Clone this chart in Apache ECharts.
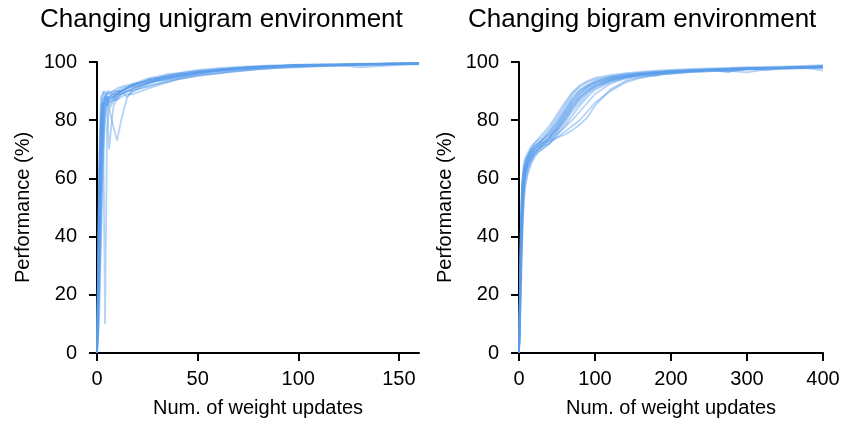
<!DOCTYPE html>
<html>
<head>
<meta charset="utf-8">
<script src="https://cdn.jsdelivr.net/npm/echarts@6/dist/echarts.min.js"></script>
<style>
html,body{margin:0;padding:0;background:#fff;}
#chart{width:843px;height:425px;}
</style>
</head>
<body>
<div id="chart"></div>
<script>
// ---- Data ----
const titles = ['Changing unigram environment', 'Changing bigram environment'];
const xAxisName = 'Num. of weight updates';
const yAxisName = 'Performance (%)';
const uniXTicks = [0, 50, 100, 150];
const bigXTicks = [0, 100, 200, 300, 400];

// Left panel: unigram environment (x = weight updates)
const uniX = [0,1,2,3,4,5,6,8,10,12,15,18,22,26,30,35,40,50,60,70,80,90,100,110,120,130,145,160];
const uni01 = [0,45,78,86,87,88,88,89,90,90,91,92,92.5,93,94,94.5,95,96,97,97.5,98,98.3,98.6,98.8,99,99.1,99.3,99.4];
const uni02 = [0,30,65,82,86,85,87,88,89,90,91,91.5,92,93,93.5,94,94.5,96.2,97,97.8,98.2,98.5,98.8,98.9,99,99.2,99.2,99.5];
const uni03 = [0,55,82,88,87,89,90,89,88,90,91,92,93,93.5,94,95,95.5,96.5,97.3,97.8,98.3,98.6,98.9,98.7,99,99.3,99.4,99.5];
const uni04 = [0,20,50,75,84,86,87,88,87,89,90,90.5,91,92,92.5,93.2,94,95.2,96,96.8,97.5,98,98.3,98.6,98.9,99.2,99.3,99.4];
const uni05 = [0,60,85,90,88,86,85,87,89,90,91,92.5,93,93.5,94.5,95.3,96,96.8,97.5,98,98.4,98.7,98.9,99,99.1,99.2,99.4,99.6];
const uni06 = [0,35,72,86,10,78,84,86,88,89,90,91,92,93,93.5,94.2,95,96,97,97.6,98,98.5,98.7,98.9,99,99.1,99.3,99.4];
const uni07 = [0,25,58,80,86,88,84,78,73,80,88,90,91.5,92.5,93.5,94,95,96,97,97.7,98.1,98.5,98.8,98.9,99,99.2,99.3,99.5];
const uni08 = [0,40,70,83,88,89,89,90,90,91,91.5,92,93,94,94.5,95,95.5,96.5,97.3,97.9,98.4,98.6,98.9,99.1,99.1,99.3,99.5,99.5];
const uni09 = [0,50,80,86,85,87,88,88,89,89,90,90,91,91.5,92.5,93.5,94.2,95.5,96.3,97,97.6,98,98.4,98.7,98.8,99,99.2,99.3];
const uni10 = [0,15,45,70,82,85,86,87,89,90,88,91,92,93,94,95,95.5,96.3,97.2,97.8,98.2,98.6,98.8,99,99,99.2,99.4,99.5];
const uni11 = [0,65,88,89,90,88,87,88,89,90,91,92,93,94,94.5,95.5,96,97,97.5,98,98.4,98.7,99,99.1,99.2,99.3,99.4,99.6];
const uni12 = [0,10,38,65,80,85,70,84,88,89,90,91,92,93,93.5,94.5,95,96,96.8,97.5,98.1,98.4,98.7,98.8,98.8,99.1,99.3,99.4];
const uni13 = [0,48,75,85,86,87,88,89,90,90,91,92,93,93.5,94,94.8,95.5,96.5,97.2,97.9,98.2,98.5,98.9,99,99.1,99.2,99.4,99.5];
const uni14 = [0,35,62,78,84,86,88,89,89.5,90,91.5,92.5,93,94,94.5,95,95.5,96.5,97.3,97.9,98.3,98.6,98.9,98.9,99,98.2,98.8,99.5];
const uni15 = [0,28,68,84,88,87,86,87,87,88,89,89,90,91,92,93,94,95.3,96.2,97,97.6,98.1,98.2,98.5,98.7,99,99.1,99.2];
const uni16 = [0,52,84,87,88,90,89,90,91,91.5,92,92.5,93.5,94.5,95,95.8,96.2,97.2,97.9,98.3,98.7,98.9,99.1,99.2,99.3,99.4,99.5,99.7];

// Right panel: bigram environment
const bigX = [0,2,4,6,8,12,16,20,25,30,40,50,60,70,80,90,100,120,140,160,180,200,225,250,275,300,325,350,375,400];
const big01 = [0,30,52,60,63,66,68,70,71,72,74,77,81,85,88,90.5,92,94,95,95.8,96.3,96.6,97,97.2,97.5,97.6,97.8,98,98.1,98.3];
const big02 = [0,25,48,58,62,65,67,68,70,71,73,76,80,84,87,89.5,91.5,93.5,94.8,95.5,96,96.5,96.8,97.1,97.3,97.6,97.9,98,98.2,98.4];
const big03 = [0,35,56,62,65,68,70,71,72,73,76,80,84,88,90.5,92,93,94.5,95.3,95.9,96.4,96.8,97,97.3,97.6,97.8,98,98.1,98.3,98.5];
const big04 = [0,20,42,55,60,64,66,68,69,70,72,74,76,78,80,83,86,90,93,94.5,95.5,96.2,96.7,97,97.2,97.5,97.7,97.9,98,98.2];
const big05 = [0,28,50,59,63,67,69,70,71,72,73,74,75,76.5,78.5,81,85,90.5,93.5,94.8,95.5,96,96.5,96.9,97.2,97.4,97.6,97.8,98,98.1];
const big06 = [0,40,58,63,66,68,70,71,72,73,76,79,83,87,90,92,93.5,95,95.8,96.3,96.7,97,97.2,97.5,97.7,97.9,98,98.2,98.3,98.5];
const big07 = [0,22,45,56,61,65,67,69,70,71,74,78,82,86,89,91,92.5,94,95,95.6,96.2,96.5,97,97.3,96.6,97.7,97.9,98,98.2,98.3];
const big08 = [0,32,54,61,64,67,69,70,71.5,73,75,78,82,86,89,91.5,93,94.8,95.5,96,96.5,96.4,97.1,97.4,97.6,97.8,97.1,98.1,98.3,98.5];
const big09 = [0,18,40,52,58,63,66,68,70,71,73,76,79,83,86,89,91,93.5,94.8,95.6,96.2,96.6,96.9,97.2,97.4,97.7,97.9,98,98.2,98.4];
const big10 = [0,38,57,62,65,68,70,72,73,74,77,81,85,89,91.5,93,94,95,95.7,96.2,96.6,96.9,97.2,97.5,97.7,97.9,98.1,98.2,98.4,98.6];
const big11 = [0,26,47,57,61,65,67,69,70,71,72,75,77.5,80,83,86,89,92.5,94.5,95.5,96.1,96.5,96.8,97.1,97.4,97.5,97.8,97.9,98.1,98.2];
const big12 = [0,30,50,58,62,66,68,69,70,72,74,77,80,84,87.5,90,92,94,95,95.7,96.2,96.6,97,97.3,97.5,97.7,97.9,98,98.2,97.0];
const big13 = [0,35,55,61,64,67,69,71,72,73,75,79,83,87,90,91.5,93,94.5,95.3,96,95.2,96.8,97.1,97.4,97.6,97.8,98,98.1,98.3,98.4];
const big14 = [0,24,46,57,62,66,68,70,71,72,74,77,81,85,88,90,91.5,93.5,94.8,95.6,96.1,96.6,96.9,97.2,96.6,97.7,97.9,98.1,98.2,98.4];
const big15 = [0,33,58,64,67,69,71,72,73.5,75,78,82,86,89.5,92,93.5,94.5,95.5,96.2,96.6,97,97.3,97.6,97.8,98,98.2,98.4,98.5,98.7,98.9];
const big16 = [0,15,36,50,57,62,65,67,69,70,72,75,78,81.5,85,88,90.5,93,94.3,95,95.8,95.9,96.5,96.8,97,96.4,97.5,97.6,97.8,97.9];

const uniRuns = [uni01,uni02,uni03,uni04,uni05,uni06,uni07,uni08,uni09,uni10,uni11,uni12,uni13,uni14,uni15,uni16];
const bigRuns = [big01,big02,big03,big04,big05,big06,big07,big08,big09,big10,big11,big12,big13,big14,big15,big16];

// ---- Chart ----
const FONT = '"Liberation Sans", Arial, Helvetica, sans-serif';
const LINE_COLOR = 'rgba(92,158,234,0.45)';
const chart = echarts.init(document.getElementById('chart'), null, {renderer: 'canvas'});

function makeX(idx, max, interval, ticks) {
  return {
    type: 'value', gridIndex: idx, min: 0, max: max, interval: interval,
    name: xAxisName, nameLocation: 'middle', nameGap: 45,
    nameTextStyle: {fontFamily: FONT, fontSize: 20, color: '#000'},
    axisLine: {onZero: false, lineStyle: {color: '#000', width: 2}},
    axisTick: {show: true, length: 8, lineStyle: {color: '#000', width: 2}, customValues: ticks},
    axisLabel: {fontFamily: FONT, fontSize: 20, color: '#000', margin: 16, customValues: ticks},
    splitLine: {show: false}
  };
}
function makeY(idx) {
  return {
    type: 'value', gridIndex: idx, min: 0, max: 100, interval: 20,
    name: yAxisName, nameLocation: 'middle', nameGap: 64, nameRotate: 90,
    nameTextStyle: {fontFamily: FONT, fontSize: 20, color: '#000'},
    axisLine: {show: true, lineStyle: {color: '#000', width: 2}},
    axisTick: {show: true, length: 8, lineStyle: {color: '#000', width: 2}},
    axisLabel: {fontFamily: FONT, fontSize: 20, color: '#000', margin: 20},
    splitLine: {show: false}
  };
}

const series = [];
uniRuns.forEach(function (run) {
  series.push({
    type: 'line', xAxisIndex: 0, yAxisIndex: 0, showSymbol: false, silent: true,
    data: uniX.map(function (x, i) { return [x, run[i]]; }),
    lineStyle: {color: LINE_COLOR, width: 1.8}
  });
});
bigRuns.forEach(function (run) {
  series.push({
    type: 'line', xAxisIndex: 1, yAxisIndex: 1, showSymbol: false, silent: true,
    data: bigX.map(function (x, i) { return [x, run[i]]; }),
    lineStyle: {color: LINE_COLOR, width: 1.8}
  });
});

chart.setOption({
  animation: false,
  backgroundColor: '#fff',
  graphic: [
    {type: 'text', left: 40, top: 7, style: {text: titles[0], font: '26px ' + FONT, fill: '#000'}},
    {type: 'text', left: 468, top: 7, style: {text: titles[1], font: '26px ' + FONT, fill: '#000'}}
  ],
  grid: [
    {left: 97, right: 424, top: 62, bottom: 72, containLabel: false},
    {left: 519, right: 20, top: 62, bottom: 72, containLabel: false}
  ],
  xAxis: [makeX(0, 160, 50, uniXTicks), makeX(1, 400, 100, bigXTicks)],
  yAxis: [makeY(0), makeY(1)],
  series: series
});
</script>
</body>
</html>
